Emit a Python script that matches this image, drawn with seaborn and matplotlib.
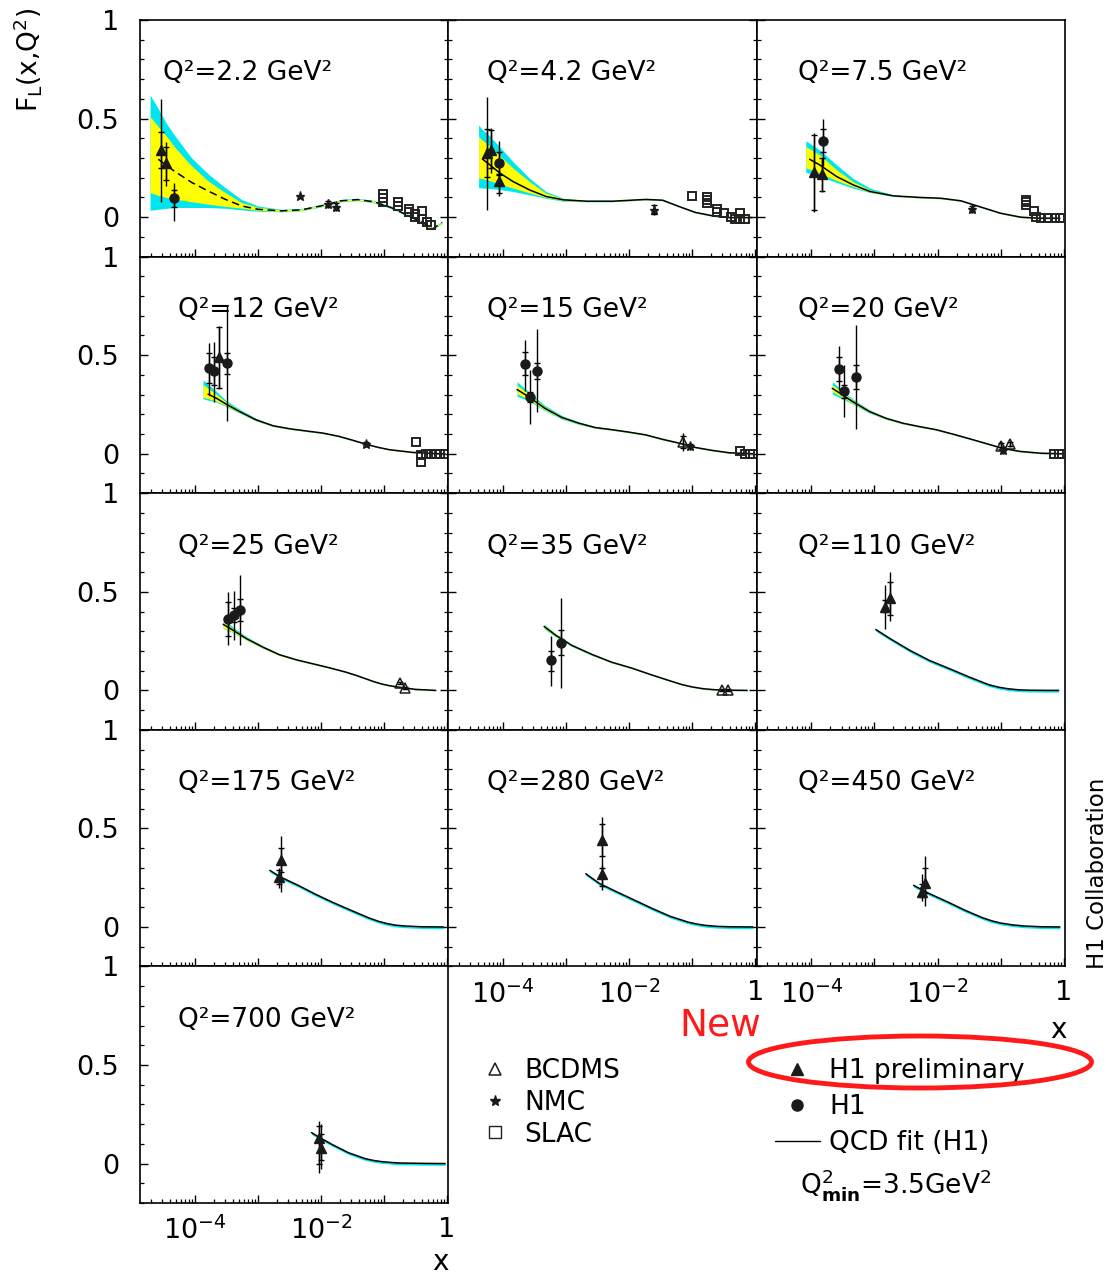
import numpy as np
import matplotlib
matplotlib.use("Agg")
import matplotlib.pyplot as plt
import seaborn as sns
from matplotlib.lines import Line2D
from matplotlib.patches import Ellipse
from matplotlib.ticker import LogLocator, FuncFormatter, NullFormatter, MultipleLocator

sns.set_theme(style="ticks", rc={"axes.edgecolor": "black", "axes.linewidth": 1.2,
                                 "text.color": "black", "xtick.color": "black",
                                 "ytick.color": "black", "axes.labelcolor": "black"})
plt.rcParams['font.family'] = ['DejaVu Sans']
plt.rcParams['mathtext.fontset'] = 'dejavusans'

# ---------------- data ----------------
Q2_LABELS = ["2.2", "4.2", "7.5", "12", "15", "20", "25", "35", "110", "175", "280", "450", "700"]

# QCD fit curves (log10 x, F_L) and error-band half widths (cyan: total, yellow: inner)
FIT_LX_1 = [-4.71, -4.58, -4.45, -4.31, -4.18, -4.05, -3.79, -3.52, -3.26, -3.00, -2.63, -2.31, -2.00, -1.68, -1.42, -1.16, -0.89, -0.63, -0.37, -0.23, -0.08]
FIT_Y_1 = [0.32, 0.294, 0.262, 0.23, 0.203, 0.176, 0.133, 0.091, 0.057, 0.04, 0.032, 0.037, 0.057, 0.083, 0.089, 0.078, 0.049, 0.01, -0.03, -0.06, -0.027]
CUP_1 = [0.30, 0.256, 0.213, 0.18, 0.152, 0.124, 0.087, 0.059, 0.033, 0.017, 0.008, 0.007, 0.007, 0.007, 0.007, 0.007, 0.007, 0.007, 0.007, 0.007, 0.007]
CDN_1 = [0.285, 0.254, 0.217, 0.181, 0.154, 0.127, 0.084, 0.046, 0.02, 0.01, 0.005, 0.005, 0.005, 0.005, 0.005, 0.005, 0.005, 0.005, 0.005, 0.005, 0.005]
YUP_1 = [0.19, 0.166, 0.148, 0.123, 0.102, 0.084, 0.051, 0.034, 0.017, 0.01, 0.005, 0.004, 0.004, 0.004, 0.004, 0.004, 0.004, 0.004, 0.004, 0.004, 0.004]
YDN_1 = [0.195, 0.184, 0.162, 0.139, 0.118, 0.098, 0.067, 0.036, 0.011, 0.005, 0.003, 0.003, 0.003, 0.003, 0.003, 0.003, 0.003, 0.003, 0.003, 0.003, 0.003]

FIT_LX_2 = [-4.39, -4.33, -4.21, -4.05, -3.84, -3.58, -3.32, -3.05, -2.68, -2.26, -1.74, -1.47, -1.21, -0.95, -0.68, -0.42, -0.16, -0.05]
FIT_Y_2 = [0.305, 0.295, 0.265, 0.223, 0.18, 0.138, 0.105, 0.088, 0.081, 0.081, 0.09, 0.086, 0.054, 0.024, 0.007, -0.002, -0.002, -0.002]
CUP_2 = [0.162, 0.15, 0.145, 0.132, 0.10, 0.059, 0.025, 0.008, 0.004, 0.004, 0.004, 0.004, 0.004, 0.004, 0.004, 0.004, 0.004, 0.004]
CDN_2 = [0.155, 0.147, 0.119, 0.083, 0.05, 0.025, 0.009, 0.007, 0.003, 0.003, 0.003, 0.003, 0.003, 0.003, 0.003, 0.003, 0.003, 0.003]
YUP_2 = [0.105, 0.095, 0.095, 0.087, 0.068, 0.042, 0.016, 0.005, 0.003, 0.003, 0.003, 0.003, 0.003, 0.003, 0.003, 0.003, 0.003, 0.003]
YDN_2 = [0.105, 0.10, 0.08, 0.055, 0.033, 0.015, 0.005, 0.004, 0.002, 0.002, 0.002, 0.002, 0.002, 0.002, 0.002, 0.002, 0.002, 0.002]

FIT_LX_3 = [-4.09, -4.03, -3.87, -3.60, -3.34, -3.07, -2.70, -2.27, -1.95, -1.63, -1.31, -1.00, -0.68, -0.41, -0.06]
FIT_Y_3 = [0.305, 0.294, 0.265, 0.206, 0.164, 0.13, 0.108, 0.10, 0.096, 0.083, 0.051, 0.02, 0.0, -0.005, -0.005]
CUP_3 = [0.082, 0.081, 0.076, 0.059, 0.033, 0.017, 0.005, 0.004, 0.004, 0.003, 0.003, 0.003, 0.003, 0.003, 0.003]
CDN_3 = [0.077, 0.072, 0.059, 0.03, 0.017, 0.005, 0.003, 0.003, 0.003, 0.003, 0.003, 0.003, 0.003, 0.003, 0.003]
YUP_3 = [0.053, 0.053, 0.051, 0.034, 0.016, 0.008, 0.002, 0.002, 0.002, 0.002, 0.002, 0.002, 0.002, 0.002, 0.002]
YDN_3 = [0.054, 0.051, 0.042, 0.02, 0.009, 0.003, 0.002, 0.002, 0.002, 0.002, 0.002, 0.002, 0.002, 0.002, 0.002]

FIT_LX_4 = [-3.87, -3.79, -3.66, -3.50, -3.29, -3.03, -2.76, -2.50, -2.24, -1.97, -1.71, -1.50, -1.29, -1.10, -0.92, -0.55, -0.13, -0.03]
FIT_Y_4 = [0.315, 0.302, 0.282, 0.251, 0.214, 0.172, 0.142, 0.127, 0.116, 0.105, 0.088, 0.069, 0.049, 0.033, 0.021, 0.007, 0.0, 0.0]
CUP_4 = [0.06, 0.05, 0.035, 0.018, 0.012, 0.008, 0.005, 0.004, 0.003, 0.003, 0.003, 0.003, 0.002, 0.002, 0.002, 0.002, 0.002, 0.002]
CDN_4 = [0.037, 0.03, 0.02, 0.012, 0.008, 0.005, 0.004, 0.003, 0.003, 0.003, 0.003, 0.003, 0.002, 0.002, 0.002, 0.002, 0.002, 0.002]
YUP_4 = [0.035, 0.03, 0.02, 0.01, 0.006, 0.004, 0.003, 0.002, 0.002, 0.002, 0.002, 0.002, 0.002, 0.002, 0.002, 0.002, 0.002, 0.002]
YDN_4 = [0.029, 0.022, 0.015, 0.008, 0.005, 0.004, 0.003, 0.002, 0.002, 0.002, 0.002, 0.002, 0.002, 0.002, 0.002, 0.002, 0.002, 0.002]

FIT_LX_5 = [-3.78, -3.60, -3.34, -3.07, -2.80, -2.54, -2.27, -2.01, -1.74, -1.48, -1.21, -0.95, -0.68, -0.41, -0.04]
FIT_Y_5 = [0.326, 0.29, 0.231, 0.184, 0.155, 0.133, 0.122, 0.11, 0.096, 0.074, 0.054, 0.032, 0.017, 0.005, 0.0]
CUP_5 = [0.04, 0.025, 0.015, 0.01, 0.007, 0.005, 0.004, 0.004, 0.003, 0.003, 0.003, 0.003, 0.003, 0.003, 0.003]
CDN_5 = [0.035, 0.02, 0.012, 0.008, 0.006, 0.004, 0.003, 0.003, 0.003, 0.003, 0.003, 0.003, 0.003, 0.003, 0.003]
YUP_5 = [0.022, 0.014, 0.008, 0.005, 0.004, 0.003, 0.002, 0.002, 0.002, 0.002, 0.002, 0.002, 0.002, 0.002, 0.002]
YDN_5 = [0.022, 0.014, 0.008, 0.005, 0.004, 0.003, 0.002, 0.002, 0.002, 0.002, 0.002, 0.002, 0.002, 0.002, 0.002]

FIT_LX_6 = [-3.67, -3.51, -3.35, -3.08, -2.82, -2.55, -2.29, -2.02, -1.76, -1.49, -1.22, -0.96, -0.69, -0.37, -0.03]
FIT_Y_6 = [0.332, 0.299, 0.265, 0.214, 0.18, 0.155, 0.138, 0.122, 0.10, 0.076, 0.051, 0.027, 0.012, 0.003, 0.0]
CUP_6 = [0.034, 0.022, 0.014, 0.009, 0.006, 0.005, 0.004, 0.003, 0.003, 0.003, 0.003, 0.003, 0.003, 0.003, 0.003]
CDN_6 = [0.03, 0.02, 0.012, 0.008, 0.005, 0.004, 0.003, 0.003, 0.003, 0.003, 0.003, 0.003, 0.003, 0.003, 0.003]
YUP_6 = [0.017, 0.012, 0.008, 0.005, 0.004, 0.003, 0.002, 0.002, 0.002, 0.002, 0.002, 0.002, 0.002, 0.002, 0.002]
YDN_6 = [0.017, 0.012, 0.008, 0.005, 0.004, 0.003, 0.002, 0.002, 0.002, 0.002, 0.002, 0.002, 0.002, 0.002, 0.002]

FIT_LX_7 = [-3.55, -3.39, -3.18, -2.92, -2.66, -2.39, -2.13, -1.87, -1.61, -1.45, -1.29, -1.16, -1.03, -0.90, -0.76, -0.50, -0.18]
FIT_Y_7 = [0.335, 0.304, 0.262, 0.219, 0.181, 0.155, 0.135, 0.115, 0.093, 0.077, 0.059, 0.044, 0.032, 0.023, 0.016, 0.005, 0.0]
CUP_7 = [0.03, 0.015, 0.01, 0.007, 0.005, 0.004, 0.003, 0.003, 0.003, 0.003, 0.003, 0.003, 0.003, 0.003, 0.003, 0.003, 0.003]
CDN_7 = [0.02, 0.012, 0.008, 0.006, 0.004, 0.003, 0.003, 0.003, 0.003, 0.003, 0.003, 0.003, 0.003, 0.003, 0.003, 0.003, 0.003]
YUP_7 = [0.012, 0.008, 0.005, 0.004, 0.003, 0.002, 0.002, 0.002, 0.002, 0.002, 0.002, 0.002, 0.002, 0.002, 0.002, 0.002, 0.002]
YDN_7 = [0.018, 0.01, 0.007, 0.005, 0.004, 0.003, 0.002, 0.002, 0.002, 0.002, 0.002, 0.002, 0.002, 0.002, 0.002, 0.002, 0.002]

FIT_LX_8 = [-3.35, -3.16, -2.91, -2.59, -2.28, -1.96, -1.65, -1.33, -1.17, -1.01, -0.82, -0.63, -0.40, -0.13]
FIT_Y_8 = [0.324, 0.278, 0.228, 0.182, 0.143, 0.113, 0.079, 0.046, 0.03, 0.018, 0.008, 0.003, 0.001, 0.0]
CUP_8 = [0.012, 0.008, 0.006, 0.005, 0.004, 0.003, 0.003, 0.002, 0.002, 0.002, 0.002, 0.002, 0.002, 0.002]
CDN_8 = [0.012, 0.009, 0.006, 0.005, 0.004, 0.003, 0.003, 0.003, 0.003, 0.003, 0.003, 0.003, 0.003, 0.003]
YUP_8 = [0.008, 0.006, 0.004, 0.003, 0.003, 0.002, 0.002, 0.002, 0.002, 0.002, 0.002, 0.002, 0.002, 0.002]
YDN_8 = [0.008, 0.006, 0.004, 0.003, 0.003, 0.002, 0.002, 0.002, 0.002, 0.002, 0.002, 0.002, 0.002, 0.002]

FIT_LX_9 = [-2.98, -2.75, -2.44, -2.13, -1.81, -1.50, -1.19, -1.03, -0.88, -0.72, -0.56, -0.30, -0.08]
FIT_Y_9 = [0.309, 0.262, 0.203, 0.152, 0.11, 0.068, 0.029, 0.016, 0.008, 0.003, 0.001, 0.0, 0.0]
FIT_LX_10 = [-2.81, -2.64, -2.36, -2.08, -1.80, -1.52, -1.24, -1.09, -0.95, -0.81, -0.67, -0.40, -0.06]
FIT_Y_10 = [0.287, 0.253, 0.211, 0.165, 0.123, 0.084, 0.046, 0.029, 0.017, 0.009, 0.005, 0.001, 0.0]
FIT_LX_11 = [-2.69, -2.47, -2.19, -1.91, -1.63, -1.35, -1.07, -0.93, -0.79, -0.60, -0.41, -0.04]
FIT_Y_11 = [0.27, 0.22, 0.177, 0.135, 0.093, 0.054, 0.025, 0.015, 0.008, 0.003, 0.001, 0.0]
FIT_LX_12 = [-2.38, -2.13, -1.84, -1.56, -1.28, -1.14, -1.00, -0.82, -0.63, -0.35, -0.06]
FIT_Y_12 = [0.211, 0.169, 0.127, 0.084, 0.046, 0.031, 0.02, 0.011, 0.005, 0.001, 0.0]
FIT_LX_13 = [-2.15, -2.02, -1.83, -1.57, -1.30, -1.17, -1.04, -0.90, -0.77, -0.40, -0.03]
FIT_Y_13 = [0.157, 0.132, 0.098, 0.056, 0.025, 0.016, 0.01, 0.006, 0.003, 0.001, 0.0]
THIN_BAND_UP = 0.002   # high-Q2 panels: band only a thin cyan edge below the curve
THIN_BAND_DN = 0.009

# data points: (set, log10 x, F_L, total low, total high, stat low, stat high)
PTS_1 = [("H1P", -4.535, 0.339, 0.078, 0.60, 0.25, 0.43),
         ("H1P", -4.456, 0.273, 0.16, 0.38, 0.19, 0.355),
         ("H1", -4.33, 0.096, -0.019, 0.175, 0.05, 0.14),
         ("NMC", -2.34, 0.105, 0.105, 0.105, 0.105, 0.105),
         ("NMC", -1.89, 0.066, 0.045, 0.09, 0.05, 0.08),
         ("NMC", -1.76, 0.054, 0.03, 0.08, 0.035, 0.07)]
PTS_2 = [("H1P", -4.26, 0.324, 0.037, 0.611, 0.206, 0.446),
         ("H1P", -4.19, 0.341, 0.223, 0.454, 0.25, 0.44),
         ("H1", -4.06, 0.273, 0.155, 0.386, 0.215, 0.33),
         ("H1P", -4.06, 0.184, 0.105, 0.24, 0.125, 0.22),
         ("NMC", -1.61, 0.037, 0.01, 0.065, 0.015, 0.06)]
PTS_3 = [("H1P", -3.96, 0.228, 0.025, 0.429, 0.037, 0.417),
         ("H1P", -3.83, 0.218, 0.13, 0.302, 0.133, 0.30),
         ("H1", -3.81, 0.386, 0.257, 0.50, 0.329, 0.447),
         ("NMC", -1.45, 0.04, 0.02, 0.06, 0.025, 0.055)]
PTS_4 = [("H1", -3.78, 0.434, 0.30, 0.56, 0.358, 0.51),
         ("H1", -3.70, 0.418, 0.265, 0.565, 0.35, 0.49),
         ("H1P", -3.62, 0.492, 0.33, 0.65, 0.335, 0.645),
         ("H1", -3.49, 0.459, 0.164, 0.754, 0.405, 0.513),
         ("NMC", -1.29, 0.049, 0.035, 0.065, 0.038, 0.06)]
PTS_5 = [("H1", -3.66, 0.456, 0.316, 0.577, 0.397, 0.518),
         ("H1", -3.57, 0.29, 0.15, 0.425, 0.265, 0.315),
         ("H1", -3.47, 0.42, 0.211, 0.633, 0.378, 0.459),
         ("BCDMS", -1.15, 0.059, 0.015, 0.105, 0.03, 0.09),
         ("NMC", -1.03, 0.037, 0.02, 0.055, 0.025, 0.05)]
PTS_6 = [("H1", -3.57, 0.43, 0.324, 0.549, 0.37, 0.49),
         ("H1", -3.48, 0.316, 0.184, 0.45, 0.285, 0.35),
         ("H1", -3.30, 0.39, 0.125, 0.653, 0.33, 0.45),
         ("BCDMS", -1.00, 0.04, 0.02, 0.06, 0.025, 0.055),
         ("BCDMS", -0.85, 0.049, 0.035, 0.063, 0.04, 0.058),
         ("NMC", -0.96, 0.02, 0.0, 0.04, 0.005, 0.035)]
PTS_7 = [("H1", -3.47, 0.363, 0.228, 0.498, 0.275, 0.45),
         ("H1", -3.38, 0.383, 0.253, 0.506, 0.347, 0.42),
         ("H1", -3.29, 0.41, 0.231, 0.586, 0.354, 0.465),
         ("BCDMS", -0.75, 0.037, 0.03, 0.044, 0.03, 0.044),
         ("BCDMS", -0.66, 0.012, 0.005, 0.019, 0.005, 0.019)]
PTS_8 = [("H1", -3.24, 0.152, 0.022, 0.275, 0.10, 0.20),
         ("H1", -3.09, 0.24, 0.012, 0.468, 0.177, 0.305),
         ("BCDMS", -0.53, 0.0, -0.005, 0.005, -0.005, 0.005),
         ("BCDMS", -0.43, 0.0, -0.005, 0.005, -0.005, 0.005)]
PTS_9 = [("H1P", -2.84, 0.422, 0.312, 0.532, 0.40, 0.456),
         ("H1P", -2.76, 0.469, 0.35, 0.60, 0.38, 0.552)]
PTS_10 = [("H1P", -2.64, 0.341, 0.177, 0.46, 0.28, 0.40),
          ("H1P", -2.66, 0.253, 0.20, 0.30, 0.22, 0.29)]
PTS_11 = [("H1P", -2.43, 0.439, 0.262, 0.557, 0.36, 0.523),
          ("H1P", -2.43, 0.267, 0.186, 0.312, 0.21, 0.30)]
PTS_12 = [("H1P", -2.20, 0.225, 0.108, 0.358, 0.17, 0.30),
          ("H1P", -2.24, 0.175, 0.133, 0.27, 0.15, 0.22)]
PTS_13 = [("H1P", -2.03, 0.13, -0.046, 0.216, 0.0, 0.19),
          ("H1P", -2.00, 0.08, -0.03, 0.20, 0.02, 0.15)]

# SLAC points (log10 x, F_L)
SLAC_1 = [(-1.01, 0.115), (-1.01, 0.095), (-1.01, 0.078), (-0.77, 0.075), (-0.77, 0.055),
          (-0.61, 0.04), (-0.61, 0.025), (-0.51, 0.015), (-0.51, 0.0), (-0.39, 0.03),
          (-0.39, -0.01), (-0.32, -0.025), (-0.25, -0.04)]
SLAC_2 = [(-1.01, 0.108), (-0.76, 0.10), (-0.76, 0.085), (-0.76, 0.07), (-0.61, 0.04),
          (-0.61, 0.025), (-0.50, 0.02), (-0.39, 0.0), (-0.32, -0.01), (-0.24, 0.02),
          (-0.24, -0.01), (-0.17, -0.008)]
SLAC_3 = [(-0.60, 0.088), (-0.60, 0.075), (-0.60, 0.06), (-0.47, 0.032), (-0.44, 0.0),
          (-0.36, -0.005), (-0.25, -0.005), (-0.14, -0.005), (-0.06, -0.005)]
SLAC_4 = [(-0.50, 0.062), (-0.41, -0.005), (-0.41, -0.04), (-0.34, 0.0), (-0.26, 0.0),
          (-0.18, 0.0), (-0.11, 0.0), (-0.04, 0.0)]
SLAC_5 = [(-0.25, 0.012), (-0.17, 0.0), (-0.09, 0.0), (-0.04, 0.0)]
SLAC_6 = [(-0.16, 0.0), (-0.08, 0.0), (-0.03, 0.0)]

LEG_DATA = ["BCDMS", "NMC", "SLAC"]
LEG_H1 = ["H1 preliminary", "H1", "QCD fit (H1)"]

# ---------------- assemble panels ----------------
def thin(n):
    return (np.full(n, THIN_BAND_UP), np.full(n, THIN_BAND_DN), np.zeros(n), np.zeros(n))

PANELS = [
    (FIT_LX_1, FIT_Y_1, (CUP_1, CDN_1, YUP_1, YDN_1), 1, PTS_1, SLAC_1),
    (FIT_LX_2, FIT_Y_2, (CUP_2, CDN_2, YUP_2, YDN_2), 1, PTS_2, SLAC_2),
    (FIT_LX_3, FIT_Y_3, (CUP_3, CDN_3, YUP_3, YDN_3), 1, PTS_3, SLAC_3),
    (FIT_LX_4, FIT_Y_4, (CUP_4, CDN_4, YUP_4, YDN_4), 1, PTS_4, SLAC_4),
    (FIT_LX_5, FIT_Y_5, (CUP_5, CDN_5, YUP_5, YDN_5), 0, PTS_5, SLAC_5),
    (FIT_LX_6, FIT_Y_6, (CUP_6, CDN_6, YUP_6, YDN_6), 0, PTS_6, SLAC_6),
    (FIT_LX_7, FIT_Y_7, (CUP_7, CDN_7, YUP_7, YDN_7), 0, PTS_7, []),
    (FIT_LX_8, FIT_Y_8, (CUP_8, CDN_8, YUP_8, YDN_8), 0, PTS_8, []),
    (FIT_LX_9, FIT_Y_9, thin(len(FIT_LX_9)), 0, PTS_9, []),
    (FIT_LX_10, FIT_Y_10, thin(len(FIT_LX_10)), 0, PTS_10, []),
    (FIT_LX_11, FIT_Y_11, thin(len(FIT_LX_11)), 0, PTS_11, []),
    (FIT_LX_12, FIT_Y_12, thin(len(FIT_LX_12)), 0, PTS_12, []),
    (FIT_LX_13, FIT_Y_13, thin(len(FIT_LX_13)), 0, PTS_13, []),
]

STYLE = {
    "H1P": dict(marker='^', mfc='k', mec='k', ms=7.5),
    "H1": dict(marker='o', mfc='k', mec='k', ms=6.5),
    "BCDMS": dict(marker='^', mfc='none', mec='k', ms=6.5, mew=1.1),
    "NMC": dict(marker='*', mfc='k', mec='k', ms=6.5),
    "SLAC": dict(marker='s', mfc='none', mec='#222222', ms=6, mew=1.4),
}
CYAN = '#00e6ee'
YELLOW = '#ffff00'

# ---------------- figure ----------------
W, H = 1106, 1278
fig = plt.figure(figsize=(W / 100, H / 100), dpi=100)
L0, T0, PW, PH = 140, 20, 308.3, 236.6
XMIN, XMAX = 10 ** -4.87, 10 ** 0.02
TICK_FS = 19.5


def xfmt(v, pos):
    e = int(round(np.log10(v)))
    if e == 0:
        return '1'
    if e in (-4, -2):
        return r'$10^{%d}$' % e
    return ''


label_x = {0: 0.123, 1: 0.127, 2: 0.133}
bottom_panels = {10, 11, 12}

for i, (lx, fy, dev, line_from, pts, slac) in enumerate(PANELS):
    row, col = divmod(i, 3)
    ax = fig.add_axes([(L0 + col * PW) / W, 1 - (T0 + (row + 1) * PH) / H, PW / W, PH / H])
    ax.set_xscale('log')
    x = 10 ** np.array(lx)
    y = np.array(fy)
    cu, cd, yu, yd = (np.array(d) for d in dev)
    ax.fill_between(x, y - cd, y + cu, color=CYAN, lw=0, zorder=1)
    ax.fill_between(x, y - yd, y + yu, color=YELLOW, lw=0, zorder=2)
    ls = (0, (5, 3)) if i == 0 else '-'
    sns.lineplot(x=x[line_from:], y=y[line_from:], ax=ax, color='black', lw=1.1,
                 linestyle=ls, sort=False, estimator=None, zorder=3)

    for (s, plx, py, lo, hi, slo, shi) in pts:
        px = 10 ** plx
        ax.errorbar([px], [py], yerr=[[py - lo], [hi - py]], fmt='none', ecolor='black',
                    elinewidth=1.0, capsize=0, zorder=4)
        ax.errorbar([px], [py], yerr=[[py - slo], [shi - py]], fmt='none', ecolor='black',
                    elinewidth=1.0, capsize=2.5, capthick=1.0, zorder=4)
        ax.plot([px], [py], ls='none', zorder=5, **STYLE[s])
    if slac:
        sx = [10 ** a for a, b in slac]
        sy = [b for a, b in slac]
        ax.plot(sx, sy, ls='none', zorder=5, **STYLE["SLAC"])

    ax.set_xlim(XMIN, XMAX)
    ax.set_ylim(-0.2, 1.0)
    ax.xaxis.set_major_locator(LogLocator(base=10, numticks=20))
    ax.xaxis.set_minor_locator(LogLocator(base=10, subs=np.arange(2, 10), numticks=20))
    ax.xaxis.set_major_formatter(FuncFormatter(xfmt))
    ax.xaxis.set_minor_formatter(NullFormatter())
    ax.set_yticks([0, 0.5, 1])
    ax.set_yticklabels(['0', '0.5', '1'])
    ax.yaxis.set_minor_locator(MultipleLocator(0.1))
    ax.tick_params(which='both', direction='in', top=False, right=(col < 2 and i != 12),
                   left=True, bottom=True, labelsize=TICK_FS, colors='black')
    ax.tick_params(which='major', length=6, width=1.0)
    ax.tick_params(which='minor', length=3.2, width=0.9)
    ax.tick_params(axis='y', pad=15)
    ax.tick_params(axis='x', pad=10)
    ax.tick_params(labelleft=(col == 0), labelright=False, labelbottom=(i in bottom_panels))
    ax.set_xlabel('')
    ax.set_ylabel('')
    for sp in ax.spines.values():
        sp.set_visible(True)
        sp.set_color('black')
        sp.set_linewidth(1.2)

    tx = 0.075 if i == 0 else label_x[col]
    ax.text(tx, 0.745, "Q\u00b2=%s GeV\u00b2" % Q2_LABELS[i], transform=ax.transAxes,
            fontsize=19, va='baseline', ha='left')

# ---------------- figure-level text ----------------
fig.text(28 / W, 1 - 60 / H, r'F$_\mathrm{L}$(x,Q$^2$)', rotation=90, fontsize=19,
         ha='center', va='center')
fig.text(1097 / W, 1 - 873 / H, 'H1 Collaboration', rotation=90, fontsize=16.5,
         ha='center', va='center')
fig.text(440 / W, 1 - 1262 / H, 'x', fontsize=20, ha='center', va='center')
fig.text(1058 / W, 1 - 1030 / H, 'x', fontsize=20, ha='center', va='center')
fig.text(720 / W, 1 - 1025 / H, 'New', color='#ff1a1a', fontsize=27, ha='center', va='center')

h_bcdms = Line2D([], [], ls='none', **dict(STYLE["BCDMS"], ms=9))
h_nmc = Line2D([], [], ls='none', **dict(STYLE["NMC"], ms=8))
h_slac = Line2D([], [], ls='none', **dict(STYLE["SLAC"], ms=8, mew=1.0))
fig.legend([h_bcdms, h_nmc, h_slac], LEG_DATA, loc='upper left',
           bbox_to_anchor=(482 / W, 1 - 1058 / H), frameon=False, fontsize=19,
           handlelength=1.0, handletextpad=0.6, labelspacing=0.22, borderpad=0, borderaxespad=0)

h_h1p = Line2D([], [], ls='none', **dict(STYLE["H1P"], ms=9))
h_h1 = Line2D([], [], ls='none', **dict(STYLE["H1"], ms=8))
h_fit = Line2D([], [], color='black', lw=1.0)
fig.legend([h_h1p, h_h1, h_fit], LEG_H1, loc='upper left',
           bbox_to_anchor=(775 / W, 1 - 1058 / H), frameon=False, fontsize=19,
           handlelength=1.7, handletextpad=0.35, labelspacing=0.38, borderpad=0, borderaxespad=0)

fig.text(800 / W, 1 - 1185 / H, r'Q$^2_{\mathbf{min}}$=3.5GeV$^2$', fontsize=19,
         ha='left', va='center')

ell = Ellipse((920 / W, 1 - 1062 / H), 343 / W, 52 / H, transform=fig.transFigure,
              fill=False, ec='#ff1a1a', lw=3.5, zorder=10)
fig.add_artist(ell)

fig.savefig('out.png', dpi=100)
